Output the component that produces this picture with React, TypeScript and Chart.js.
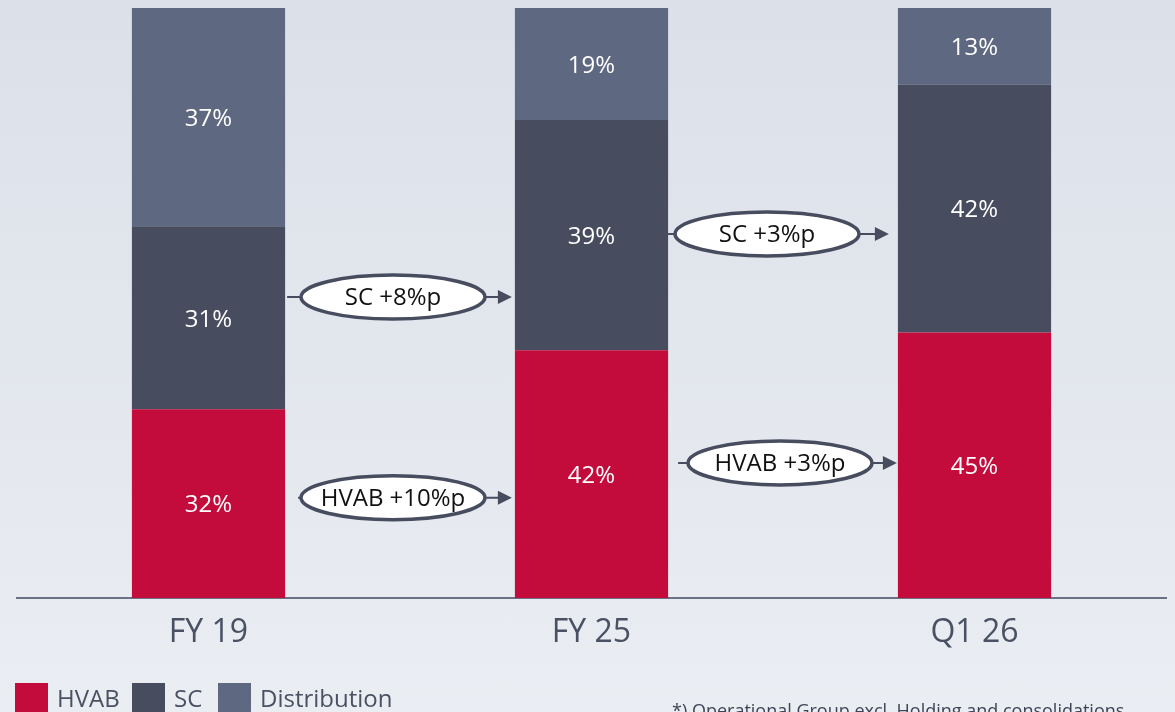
import React, { useEffect, useRef } from "react";
import { Chart, registerables } from "chart.js";

Chart.register(...registerables);

const categories = ["FY 19", "FY 25", "Q1 26"];
const seriesNames = ["HVAB", "SC", "Distribution"];
const hvab = [32, 42, 45];
const sc = [31, 39, 42];
const distribution = [37, 19, 13];
const seriesColors = ["#C40C3C", "#474C5F", "#5F6881"];

const arrowLabels = ["SC +8%p", "HVAB +10%p", "SC +3%p", "HVAB +3%p"];
const arrowFrom = [0, 0, 1, 1];
const arrowLevel = [51, 17, 61.7, 22.9];
// styling: [ellipse centre offset from gap centre, left gap, right gap]
const arrowStyle = [
  [-7, 2, 3],
  [-7, 13, 3],
  [-16, 0, 9],
  [-3, 10, 1],
];
const legendBoxX = [15, 132, 218];
const footnote = "*) Operational Group excl. Holding and consolidations";
const FONT = "'Open Sans', 'Noto Sans', sans-serif";
const TEXT_COLOR = "#4A5163";

const valueLabels = {
  id: "valueLabels",
  afterDatasetsDraw(chart: any) {
    const ctx = chart.ctx;
    ctx.save();
    ctx.fillStyle = "#FFFFFF";
    ctx.font = `24px ${FONT}`;
    ctx.textAlign = "center";
    ctx.textBaseline = "middle";
    chart.data.datasets.forEach((ds: any, di: number) => {
      const meta = chart.getDatasetMeta(di);
      meta.data.forEach((el: any, i: number) => {
        const p = el.getProps(["x", "y", "base"], true);
        ctx.fillText(`${ds.data[i]}%`, p.x, (p.y + p.base) / 2 + 2);
      });
    });
    ctx.restore();
  },
};

const arrows = {
  id: "arrows",
  afterDatasetsDraw(chart: any) {
    const ctx = chart.ctx;
    const yScale = chart.scales.y;
    const meta = chart.getDatasetMeta(0);
    const rx = 92;
    const ry = 22;
    ctx.save();
    arrowLabels.forEach((label, k) => {
      const a = meta.data[arrowFrom[k]].getProps(["x", "width"], true);
      const b = meta.data[arrowFrom[k] + 1].getProps(["x", "width"], true);
      const right = a.x + a.width / 2;
      const left = b.x - b.width / 2;
      const [dx, g1, g2] = arrowStyle[k];
      const cx = (right + left) / 2 + dx;
      const cy = yScale.getPixelForValue(arrowLevel[k]);
      const tip = left - g2;
      ctx.strokeStyle = "#474C5F";
      ctx.fillStyle = "#474C5F";
      ctx.lineWidth = 2;
      ctx.beginPath();
      ctx.moveTo(right + g1, cy);
      ctx.lineTo(cx - rx, cy);
      ctx.moveTo(cx + rx, cy);
      ctx.lineTo(tip - 12, cy);
      ctx.stroke();
      ctx.beginPath();
      ctx.moveTo(tip, cy);
      ctx.lineTo(tip - 14, cy - 7);
      ctx.lineTo(tip - 14, cy + 7);
      ctx.closePath();
      ctx.fill();
      ctx.beginPath();
      ctx.ellipse(cx, cy, rx, ry, 0, 0, Math.PI * 2);
      ctx.fillStyle = "#FFFFFF";
      ctx.fill();
      ctx.lineWidth = 3.5;
      ctx.stroke();
      ctx.fillStyle = "#111111";
      ctx.font = `24px ${FONT}`;
      ctx.textAlign = "center";
      ctx.textBaseline = "middle";
      ctx.fillText(label, cx, cy + 1);
    });
    ctx.restore();
  },
};

const bottomLegend = {
  id: "bottomLegend",
  afterDraw(chart: any) {
    const ctx = chart.ctx;
    ctx.save();
    ctx.font = `24px ${FONT}`;
    ctx.textBaseline = "middle";
    ctx.textAlign = "left";
    seriesNames.forEach((name, i) => {
      const x = legendBoxX[i];
      ctx.fillStyle = seriesColors[i];
      ctx.fillRect(x, 683, 33, 32);
      ctx.fillStyle = TEXT_COLOR;
      ctx.fillText(name, x + 42, 700);
    });
    ctx.font = `18px ${FONT}`;
    ctx.textBaseline = "alphabetic";
    ctx.fillStyle = "#3E4456";
    ctx.fillText(footnote, 672, 717);
    ctx.restore();
  },
};

export default function App() {
  const ref = useRef<HTMLCanvasElement>(null);
  useEffect(() => {
    if (!ref.current) return;
    const values = [hvab, sc, distribution];
    const chart = new Chart(ref.current, {
      type: "bar",
      data: {
        labels: categories,
        datasets: seriesNames.map((n, i) => ({
          label: n,
          data: values[i],
          backgroundColor: seriesColors[i],
          borderWidth: 0,
          categoryPercentage: 1,
          barPercentage: 0.4,
        })),
      },
      options: {
        responsive: false,
        animation: false,
        devicePixelRatio: 1,
        layout: { padding: { left: 17, right: 9, top: 8, bottom: 0 } },
        plugins: { legend: { display: false }, tooltip: { enabled: false } },
        scales: {
          x: {
            stacked: true,
            grid: { display: false, drawTicks: false },
            border: { display: true, color: "#6B7184", width: 2 },
            ticks: {
              color: TEXT_COLOR,
              font: { family: FONT, size: 32 },
              padding: 16,
            },
            afterFit: (s: any) => {
              s.height = 114;
            },
          },
          y: { stacked: true, min: 0, max: 100, display: false },
        },
      },
      plugins: [valueLabels, arrows, bottomLegend],
    });
    return () => chart.destroy();
  }, []);
  return (
    <div
      style={{
        position: "fixed",
        left: 0,
        top: 0,
        width: 1175,
        height: 712,
        overflow: "hidden",
        background: "linear-gradient(180deg, #DCE0E9 0%, #EAEDF2 100%)",
      }}
    >
      <canvas ref={ref} width={1175} height={712} style={{ width: 1175, height: 712, display: "block" }} />
    </div>
  );
}
